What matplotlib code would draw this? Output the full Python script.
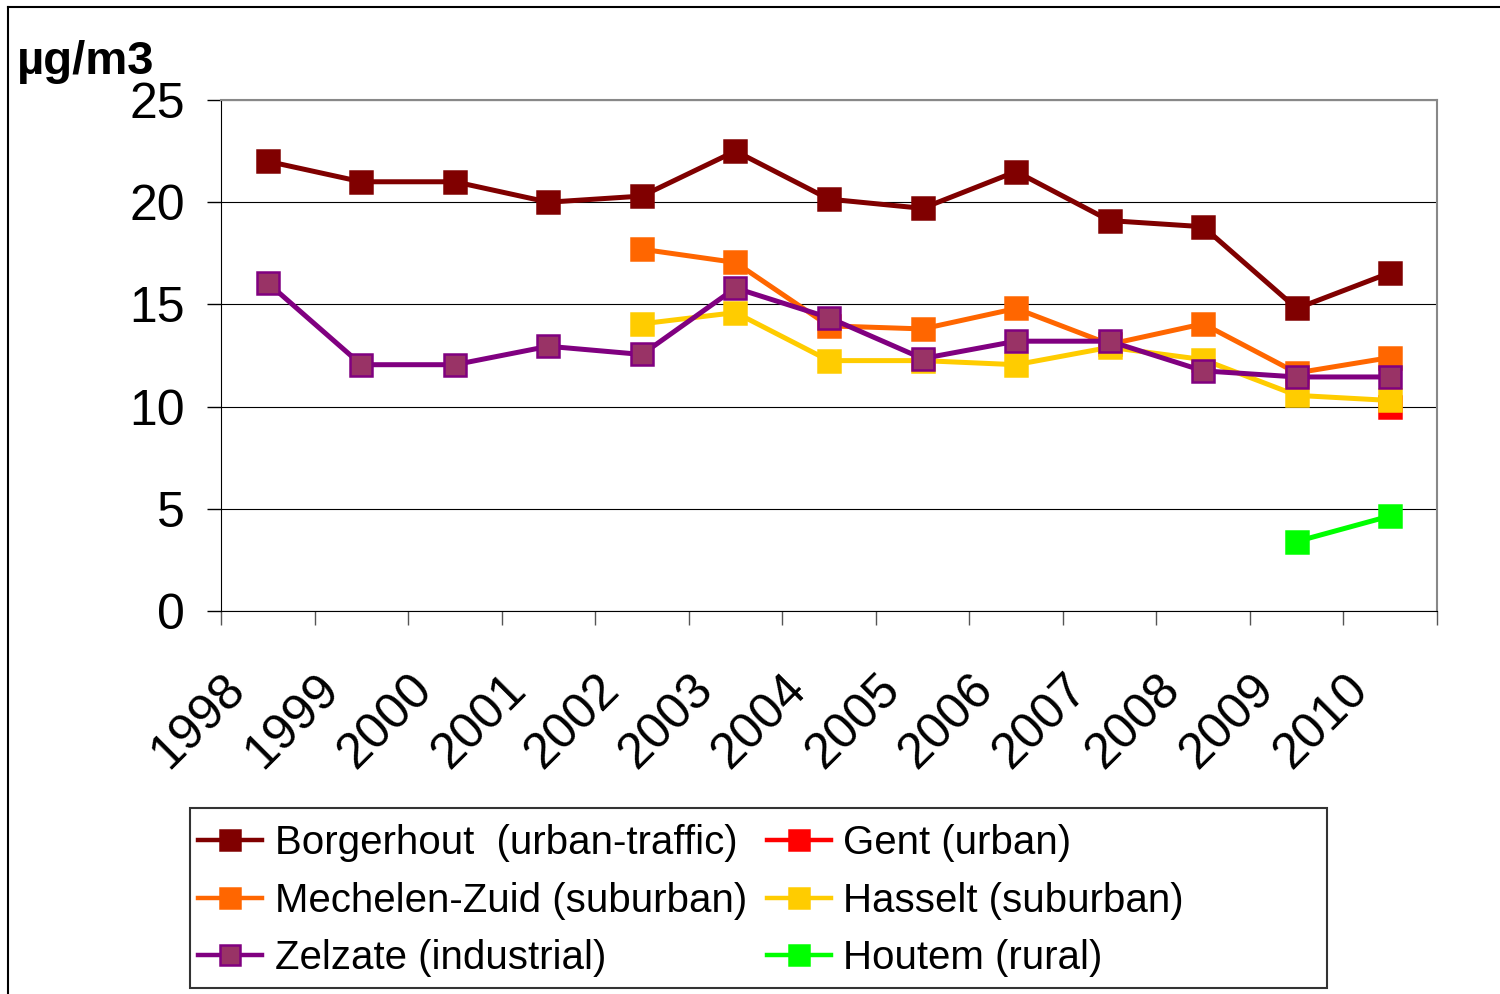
import matplotlib
matplotlib.use("Agg")
import matplotlib.pyplot as plt
from matplotlib.lines import Line2D
from matplotlib.patches import Rectangle
import matplotlib.transforms as mtransforms
import numpy as np

plt.rcParams['font.family'] = ['Liberation Sans', 'DejaVu Sans']

years = ['1998', '1999', '2000', '2001', '2002', '2003', '2004',
         '2005', '2006', '2007', '2008', '2009', '2010']
nan = np.nan
borgerhout = [22.0, 21.0, 21.0, 20.0, 20.3, 22.5, 20.15, 19.7, 21.5, 19.1, 18.8, 14.8, 16.55]
gent =       [nan, nan, nan, nan, nan, nan, nan, nan, nan, nan, nan, nan, 10.0]
mechelen =   [nan, nan, nan, nan, 17.7, 17.05, 13.95, 13.8, 14.8, 13.05, 14.05, 11.65, 12.4]
hasselt =    [nan, nan, nan, nan, 14.05, 14.6, 12.25, 12.25, 12.05, 12.9, 12.3, 10.55, 10.3]
zelzate =    [16.05, 12.05, 12.05, 12.95, 12.55, 15.8, 14.35, 12.35, 13.2, 13.2, 11.75, 11.45, 11.45]
houtem =     [nan, nan, nan, nan, nan, nan, nan, nan, nan, nan, nan, 3.4, 4.65]

labels = ['Borgerhout  (urban-traffic)', 'Gent (urban)', 'Mechelen-Zuid (suburban)',
          'Hasselt (suburban)', 'Zelzate (industrial)', 'Houtem (rural)']
series = [borgerhout, gent, mechelen, hasselt, zelzate, houtem]
line_colors = ['#800000', '#FF0000', '#FF6600', '#FFCC00', '#800080', '#00FF00']
face_colors = ['#800000', '#FF0000', '#FF6600', '#FFCC00', '#993366', '#00FF00']
edge_colors = ['#800000', '#FF0000', '#FF6600', '#FFCC00', '#800080', '#00FF00']

fig = plt.figure(figsize=(15, 9.94), dpi=100)
ax = fig.add_axes([221/1500, 1-611/994, (1437-221)/1500, (611-100)/994])

x = np.arange(len(years))
handles = {}
for lab, ys, lc, fc, ec in zip(labels, series, line_colors, face_colors, edge_colors):
    h, = ax.plot(x, ys, color=lc, lw=3.6, marker='s', markersize=15.5,
                 markerfacecolor=fc, markeredgecolor=ec, markeredgewidth=1.8,
                 label=lab, zorder=3)
    handles[lab] = h

ax.set_xlim(-0.5, len(years) - 0.5)
ax.set_ylim(0, 25)
ax.set_yticks([0, 5, 10, 15, 20, 25])
ax.set_yticklabels(['0', '5', '10', '15', '20', '25'], fontsize=36)
ax.yaxis.grid(True, color='#000000', lw=0.8)
ax.set_axisbelow(True)

ax.set_xticks(np.arange(-0.5, len(years), 1.0))
ax.set_xticklabels([])
ax.tick_params(axis='x', which='major', length=10, width=1, color='#555555', direction='out')
ax.tick_params(axis='y', length=10, width=1, direction='out', pad=16)

# rotated category labels
trans = mtransforms.blended_transform_factory(ax.transData, ax.transAxes) + \
    mtransforms.ScaledTranslation(-46/100, -55/100, fig.dpi_scale_trans)
for xi, yr in zip(x, years):
    ax.text(xi, 0, yr, transform=trans, fontsize=36, rotation=45,
            ha='right', va='top', rotation_mode='anchor', clip_on=False)

for s in ['top', 'right']:
    ax.spines[s].set_color('#888888')
    ax.spines[s].set_linewidth(1.5)
ax.spines['left'].set_color('#000000')
ax.spines['bottom'].set_color('#000000')

fig.text(17/1500, 1-62/994, 'µg/m3', fontsize=34, fontweight='bold', va='center', ha='left')

order = ['Borgerhout  (urban-traffic)', 'Mechelen-Zuid (suburban)', 'Zelzate (industrial)',
         'Gent (urban)', 'Hasselt (suburban)', 'Houtem (rural)']
leg = fig.legend([handles[k] for k in order], order, ncol=2,
                 loc='upper left', bbox_to_anchor=(198/1500, 1-824/994),
                 fontsize=29, frameon=False,
                 handlelength=1.6, handletextpad=0.3,
                 columnspacing=0.5, labelspacing=0.49, borderaxespad=0, borderpad=0)
for h in leg.legend_handles:
    h.set_markersize(15)
    h.set_linewidth(3.2)

fig.add_artist(Rectangle((190/1500, 1-988/994), (1327-190)/1500, (988-808)/994,
                         transform=fig.transFigure, fill=False, edgecolor='#333333', lw=1.5))

# figure border (top and left)
fig.add_artist(Line2D([8/1500, 1], [1-7/994, 1-7/994], transform=fig.transFigure, color='black', lw=1.5))
fig.add_artist(Line2D([8/1500, 8/1500], [0, 1-7/994], transform=fig.transFigure, color='black', lw=1.5))

fig.savefig('out.png', dpi=100)
